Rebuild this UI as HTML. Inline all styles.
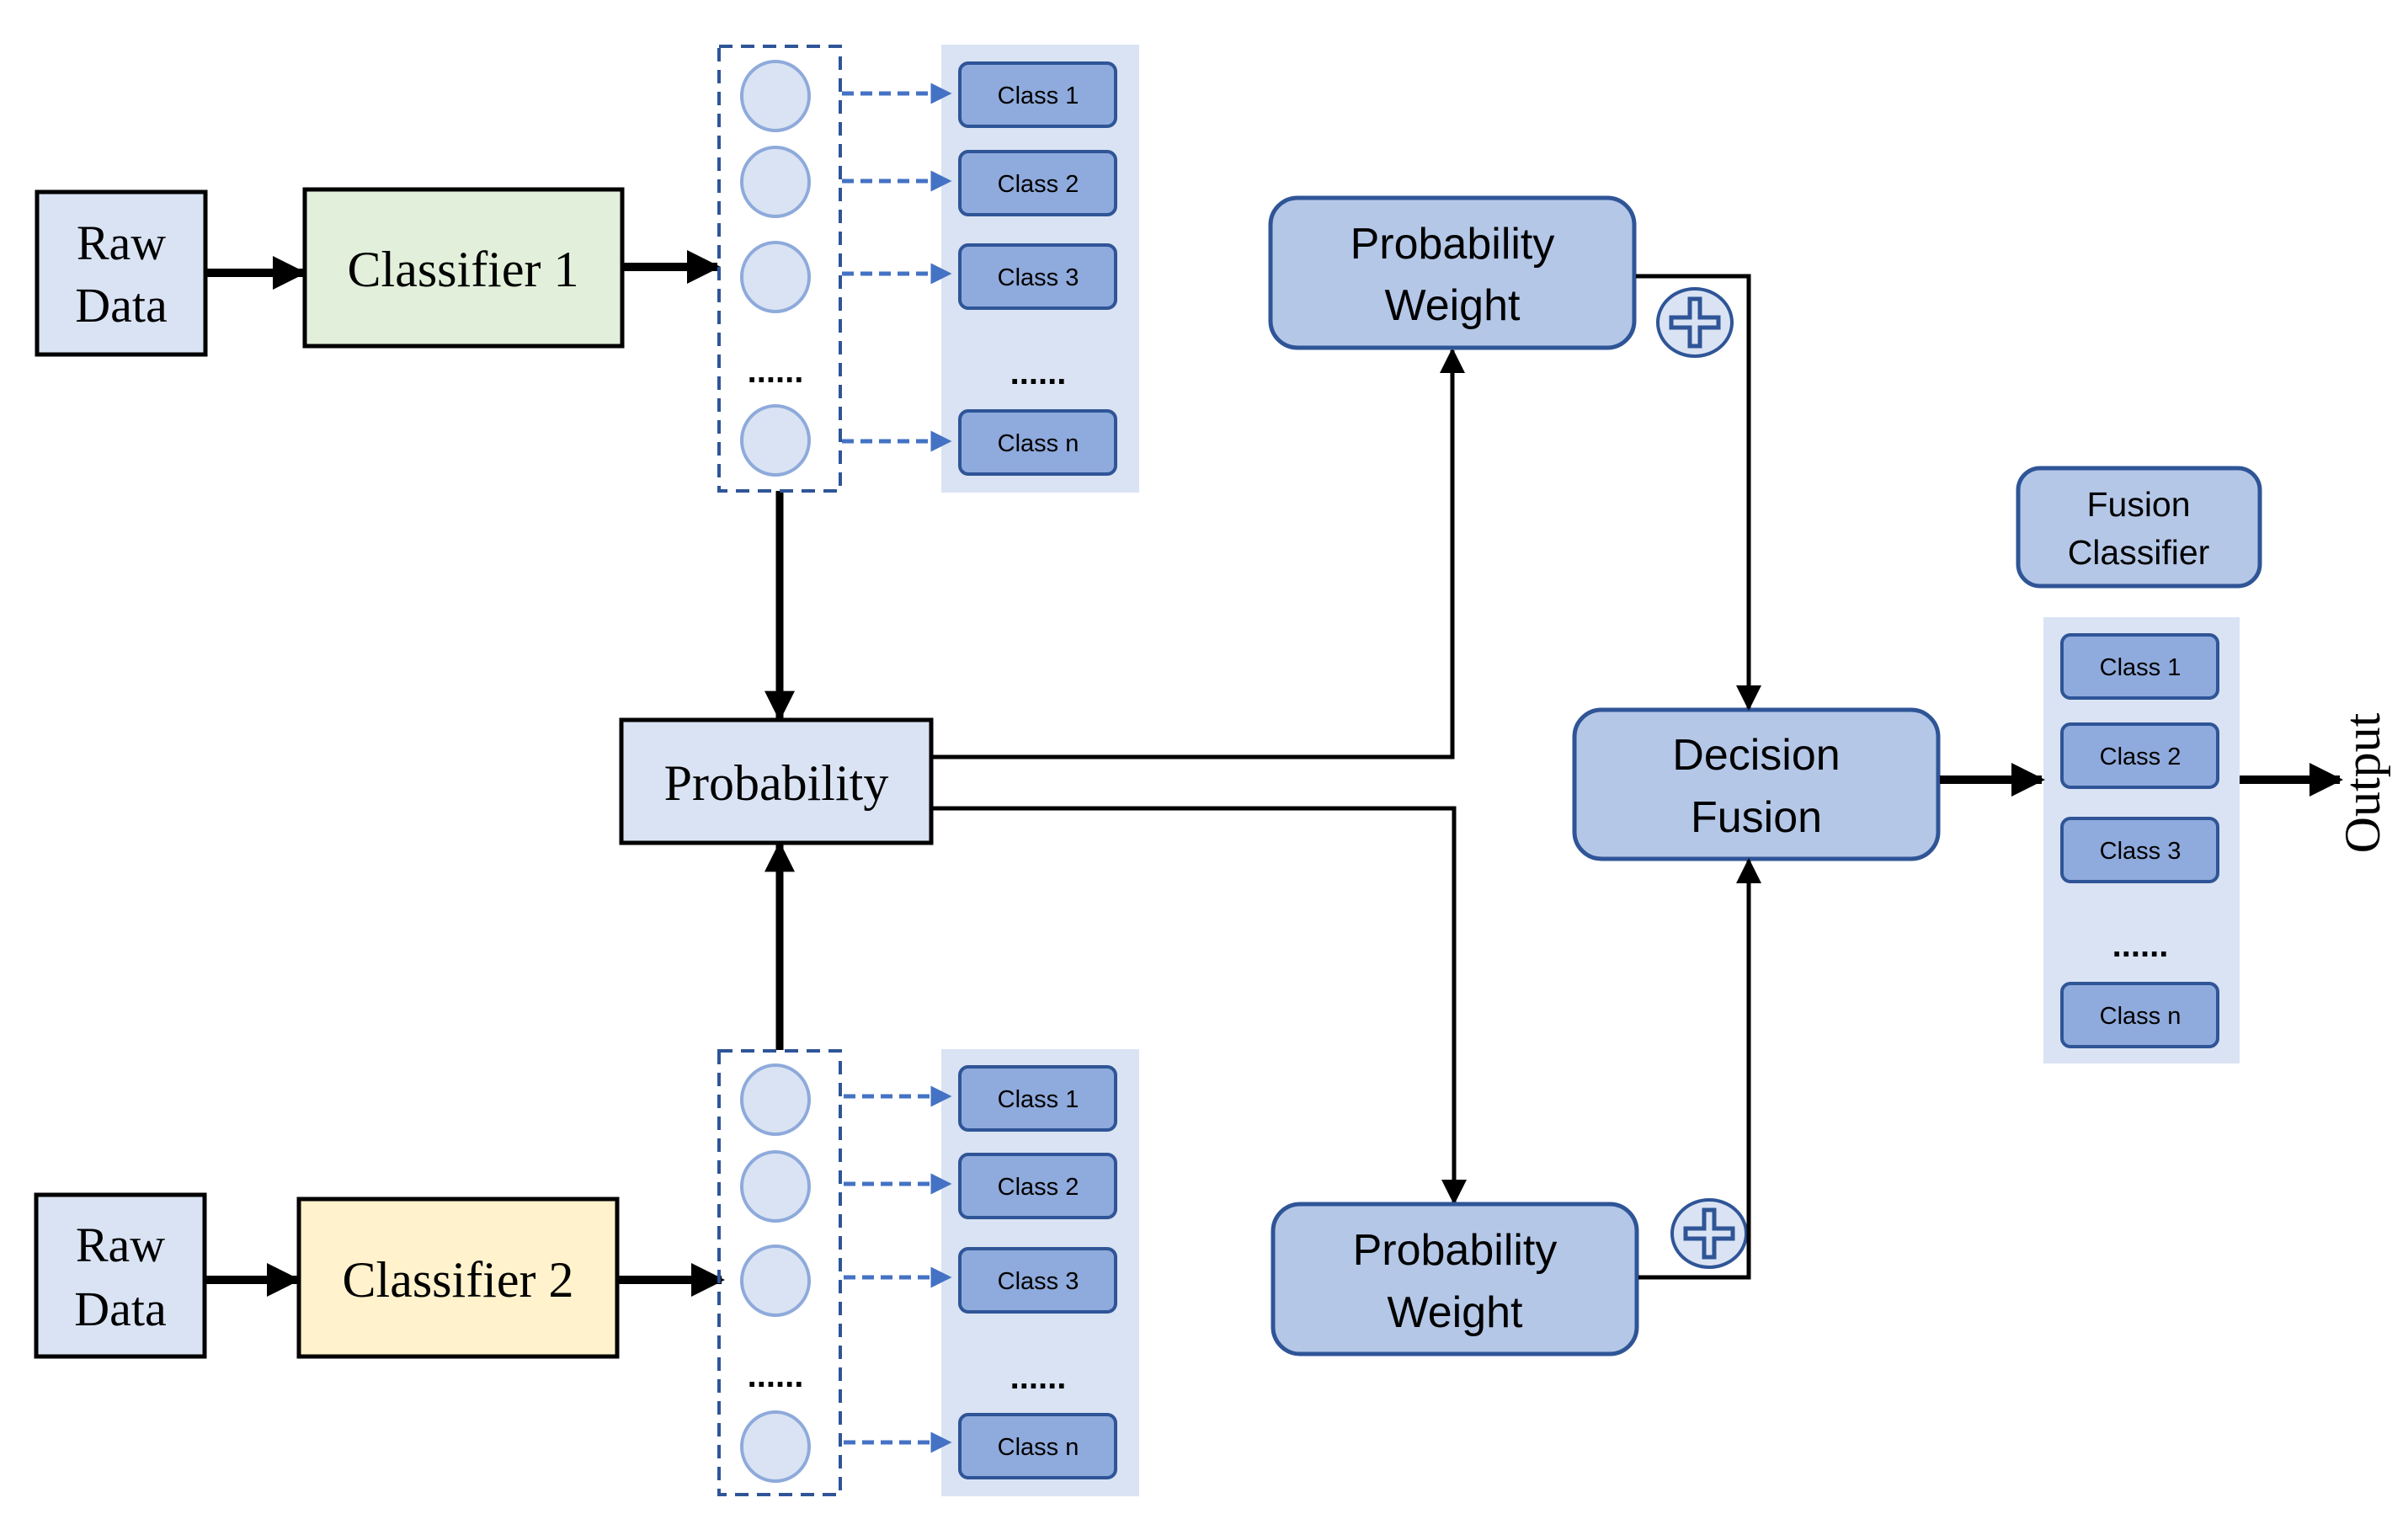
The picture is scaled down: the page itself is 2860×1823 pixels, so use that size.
<!DOCTYPE html>
<html><head><meta charset="utf-8"><style>html,body{margin:0;padding:0;background:#fff}svg{display:block}</style></head><body>
<svg width="2860" height="1823" viewBox="0 0 2860 1823" xmlns="http://www.w3.org/2000/svg">
<defs>
<marker id="ab" viewBox="0 0 10 10" refX="9" refY="5" markerWidth="4" markerHeight="4" orient="auto" markerUnits="strokeWidth"><path d="M0,0L10,5L0,10z" fill="#000"/></marker>
<marker id="as" viewBox="0 0 10 10" refX="9" refY="5" markerWidth="6" markerHeight="6" orient="auto" markerUnits="strokeWidth"><path d="M0,0L10,5L0,10z" fill="#000"/></marker>
<marker id="ad" viewBox="0 0 10 10" refX="9" refY="5" markerWidth="5" markerHeight="5" orient="auto" markerUnits="strokeWidth"><path d="M0,0L10,5L0,10z" fill="#4472c4"/></marker>
</defs>
<g font-family="Liberation Serif, serif" fill="#000">
<rect x="44" y="228" width="200" height="193" fill="#dae3f3" stroke="#000" stroke-width="5"/>
<text x="144" y="308" font-size="58" text-anchor="middle">Raw</text>
<text x="144" y="382" font-size="58" text-anchor="middle">Data</text>
<rect x="362" y="225" width="377" height="186" fill="#e2efda" stroke="#000" stroke-width="5"/>
<text x="550" y="340" font-size="60" text-anchor="middle">Classifier 1</text>
<line x1="246" y1="324" x2="360" y2="324" stroke="#000" stroke-width="10" marker-end="url(#ab)"/>
<line x1="741" y1="317" x2="852" y2="317" stroke="#000" stroke-width="10" marker-end="url(#ab)"/>
<rect x="43" y="1419" width="200" height="192" fill="#dae3f3" stroke="#000" stroke-width="5"/>
<text x="143" y="1498" font-size="58" text-anchor="middle">Raw</text>
<text x="143" y="1574" font-size="58" text-anchor="middle">Data</text>
<rect x="355" y="1424" width="378" height="187" fill="#fff2cc" stroke="#000" stroke-width="5"/>
<text x="544" y="1540" font-size="60" text-anchor="middle">Classifier 2</text>
<line x1="245" y1="1520" x2="353" y2="1520" stroke="#000" stroke-width="10" marker-end="url(#ab)"/>
<line x1="735" y1="1520" x2="857" y2="1520" stroke="#000" stroke-width="10" marker-end="url(#ab)"/>
<rect x="738" y="855" width="368" height="146" fill="#dae3f3" stroke="#000" stroke-width="5"/>
<text x="922" y="950" font-size="60" text-anchor="middle">Probability</text>
<line x1="926" y1="583" x2="926" y2="853" stroke="#000" stroke-width="9" marker-end="url(#ab)"/>
<line x1="926" y1="1247" x2="926" y2="1003" stroke="#000" stroke-width="9" marker-end="url(#ab)"/>
<polyline points="1108,899 1725,899 1725,416" fill="none" stroke="#000" stroke-width="5" marker-end="url(#as)"/>
<polyline points="1108,960 1727,960 1727,1428" fill="none" stroke="#000" stroke-width="5" marker-end="url(#as)"/>
<text transform="translate(2826,930) rotate(-90)" font-size="60" text-anchor="middle">Output</text>
</g>
<rect x="1118" y="53" width="235" height="532" fill="#dae3f3"/>
<rect x="854" y="55" width="144" height="528" fill="none" stroke="#2f5597" stroke-width="4" stroke-dasharray="16,10"/>
<rect x="1118" y="1246" width="235" height="531" fill="#dae3f3"/>
<rect x="854" y="1248" width="144" height="527" fill="none" stroke="#2f5597" stroke-width="4" stroke-dasharray="16,10"/>
<g fill="#dae3f3" stroke="#8eaadb" stroke-width="4">
<ellipse cx="921" cy="114" rx="40" ry="41"/><ellipse cx="921" cy="216" rx="40" ry="41"/><ellipse cx="921" cy="329" rx="40" ry="41"/><ellipse cx="921" cy="523" rx="40" ry="41"/>
<ellipse cx="921" cy="1306" rx="40" ry="41"/><ellipse cx="921" cy="1409" rx="40" ry="41"/><ellipse cx="921" cy="1521" rx="40" ry="41"/><ellipse cx="921" cy="1718" rx="40" ry="41"/>
</g>
<g stroke="#4472c4" stroke-width="5" stroke-dasharray="14,8" marker-end="url(#ad)">
<line x1="1000" y1="111" x2="1128" y2="111"/><line x1="1000" y1="215" x2="1128" y2="215"/><line x1="1000" y1="325" x2="1128" y2="325"/><line x1="1000" y1="524" x2="1128" y2="524"/>
<line x1="1002" y1="1302" x2="1128" y2="1302"/><line x1="1002" y1="1406" x2="1128" y2="1406"/><line x1="1002" y1="1517" x2="1128" y2="1517"/><line x1="1002" y1="1713" x2="1128" y2="1713"/>
</g>
<g fill="#8faadc" stroke="#2f5597" stroke-width="4">
<rect x="1140" y="75" width="185" height="75" rx="10"/><rect x="1140" y="180" width="185" height="75" rx="10"/><rect x="1140" y="291" width="185" height="75" rx="10"/><rect x="1140" y="488" width="185" height="75" rx="10"/>
<rect x="1140" y="1267" width="185" height="75" rx="10"/><rect x="1140" y="1371" width="185" height="75" rx="10"/><rect x="1140" y="1483" width="185" height="75" rx="10"/><rect x="1140" y="1680" width="185" height="75" rx="10"/>
</g>
<g font-family="Liberation Sans, sans-serif" font-size="29" text-anchor="middle" fill="#000">
<text x="1233" y="123">Class 1</text><text x="1233" y="228">Class 2</text><text x="1233" y="339">Class 3</text><text x="1233" y="536">Class n</text>
<text x="1233" y="1315">Class 1</text><text x="1233" y="1419">Class 2</text><text x="1233" y="1531">Class 3</text><text x="1233" y="1728">Class n</text>
<text x="921" y="454" font-size="40" font-weight="bold">......</text><text x="1233" y="456" font-size="40" font-weight="bold">......</text>
<text x="921" y="1647" font-size="40" font-weight="bold">......</text><text x="1233" y="1649" font-size="40" font-weight="bold">......</text>
</g>
<g fill="#b4c7e7" stroke="#2f5597" stroke-width="5">
<rect x="1509" y="235" width="432" height="178" rx="32"/>
<rect x="1512" y="1430" width="432" height="178" rx="32"/>
<rect x="1870" y="843" width="432" height="177" rx="32"/>
<rect x="2397" y="556" width="287" height="140" rx="26"/>
</g>
<g fill="#dae3f3" stroke="#2f5597" stroke-width="4">
<ellipse cx="2013" cy="383" rx="44" ry="40"/>
<ellipse cx="2030" cy="1465" rx="44" ry="40"/>
</g>
<g fill="#dae3f3" stroke="#2f5597" stroke-width="5">
<path d="M2007,355h12v22h22v12h-22v22h-12v-22h-22v-12h22z"/>
<path d="M2024,1437h12v22h22v12h-22v22h-12v-22h-22v-12h22z"/>
</g>
<polyline points="1943,328 2077,328 2077,841" fill="none" stroke="#000" stroke-width="5" marker-end="url(#as)"/>
<polyline points="1946,1517 2077,1517 2077,1022" fill="none" stroke="#000" stroke-width="5" marker-end="url(#as)"/>
<rect x="2427" y="733" width="233" height="530" fill="#dae3f3"/>
<g fill="#8faadc" stroke="#2f5597" stroke-width="4">
<rect x="2449" y="754" width="185" height="75" rx="10"/><rect x="2449" y="860" width="185" height="75" rx="10"/><rect x="2449" y="972" width="185" height="75" rx="10"/><rect x="2449" y="1168" width="185" height="75" rx="10"/>
</g>
<line x1="2304" y1="926" x2="2425" y2="926" stroke="#000" stroke-width="10" marker-end="url(#ab)"/>
<line x1="2660" y1="926" x2="2779" y2="926" stroke="#000" stroke-width="10" marker-end="url(#ab)"/>
<g font-family="Liberation Sans, sans-serif" text-anchor="middle" fill="#000">
<text x="2542" y="802" font-size="29">Class 1</text><text x="2542" y="908" font-size="29">Class 2</text><text x="2542" y="1020" font-size="29">Class 3</text><text x="2542" y="1216" font-size="29">Class n</text>
<text x="2542" y="1136" font-size="40" font-weight="bold">......</text>
<text x="1725" y="307" font-size="52">Probability</text><text x="1725" y="380" font-size="52">Weight</text>
<text x="1728" y="1502" font-size="52">Probability</text><text x="1728" y="1576" font-size="52">Weight</text>
<text x="2086" y="914" font-size="52">Decision</text><text x="2086" y="988" font-size="52">Fusion</text>
<text x="2540" y="613" font-size="41">Fusion</text><text x="2540" y="670" font-size="41">Classifier</text>
</g>
</svg>
</body></html>
